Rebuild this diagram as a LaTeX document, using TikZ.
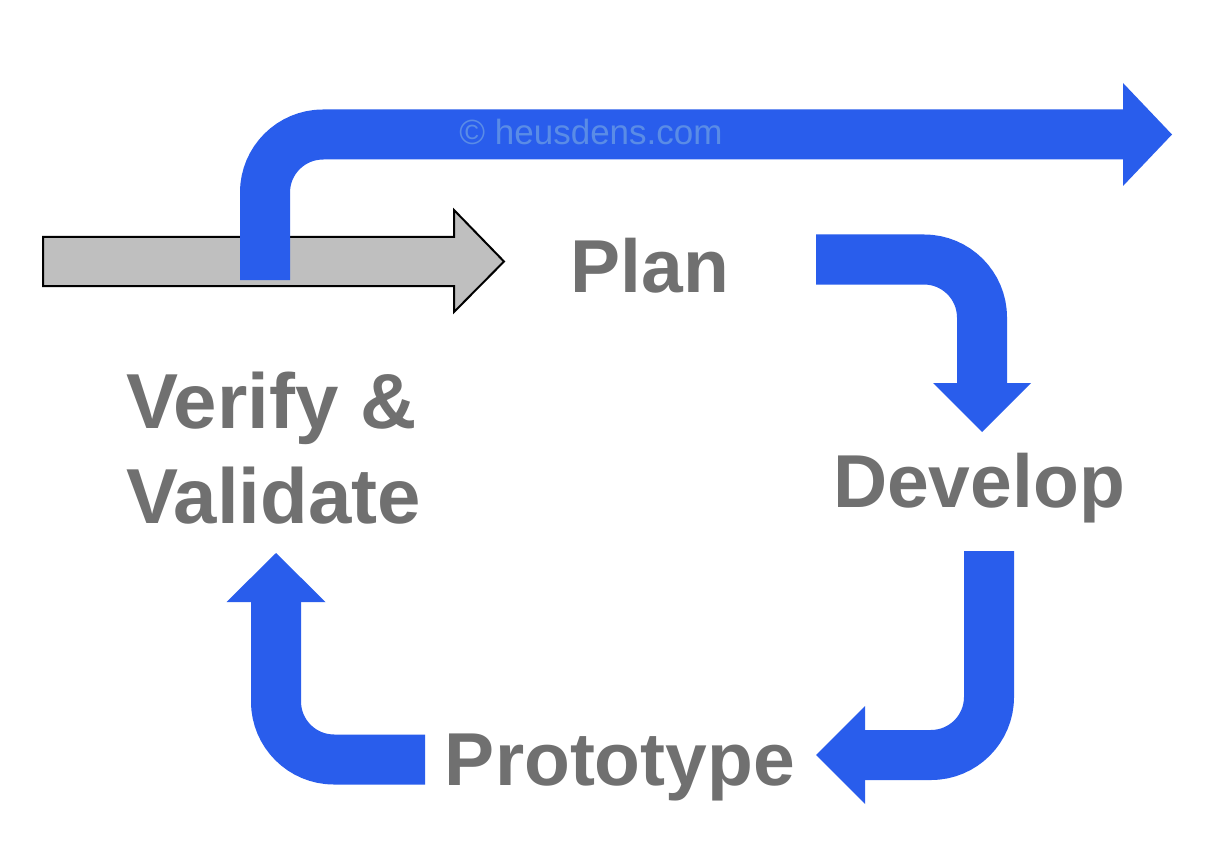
\documentclass[tikz,border=0pt]{standalone}
\usepackage{fontspec}
\usepackage{tikz}
\usepackage{xcolor}
\usetikzlibrary{calc}
\usetikzlibrary{positioning}
\newfontfamily\labelfont{Liberation Sans}
\definecolor{flowblue}{HTML}{295DEC}
\definecolor{markblue}{HTML}{5A8CE6}
\definecolor{labelgray}{HTML}{707070}
\definecolor{inputgray}{HTML}{BFBFBF}

\begin{document}
\begin{tikzpicture}[x=1pt,y=-1pt,
	flow/.style={draw=flowblue,line width=50pt,rounded corners=58pt},
	head/.style={fill=flowblue},
	phase/.style={font=\labelfont\bfseries\fontsize{75}{95}\selectfont,text=labelgray,inner sep=0pt}]
\useasboundingbox (0,0) rectangle (1228,850);
\fill[white] (0,0) rectangle (1228,850);
\draw[fill=inputgray,line width=2pt,line join=miter] (43,237) -- (454,237) -- (454,210) -- (504,261.5) -- (454,312) -- (454,286) -- (43,286) -- cycle;
\node[phase,anchor=base] (plan) at (650,292) {Plan};
\node[phase,anchor=base] (develop) at (979,507) {Develop};
\node[phase,anchor=base] (prototype) at (620,785) {Prototype};
\node[phase,anchor=base west,align=left,font=\labelfont\bfseries\fontsize{78}{95}\selectfont] (verify) at (126,523) {Verify \&\\Validate};
\coordinate (A) at (265,280);
\coordinate (B) at (265,134.5);
\coordinate (C) at (1123,134.5);
\draw[flow] (A) -- (B) -- (C);
\fill[head] ($(C)+(0,-51.5)$) -- ($(C)+(0,51.5)$) -- ($(C)+(49,0)$) -- cycle;
\node[font=\labelfont\fontsize{35}{40}\selectfont,text=markblue,inner sep=0pt] (mark) at (591,132) {© heusdens.com};
\coordinate (P1) at (816,259.5);
\coordinate (P2) at (982,259.5);
\coordinate (P3) at (982,383);
\draw[flow] (P1) -- (P2) -- (P3);
\fill[head] ($(P3)+(-49,0)$) -- ($(P3)+(49,0)$) -- ($(P3)+(0,49)$) -- cycle;
\coordinate (D1) at (989,551);
\coordinate (D2) at (989,755);
\coordinate (D3) at (865,755);
\draw[flow] (D1) -- (D2) -- (D3);
\fill[head] ($(D3)+(0,-49)$) -- ($(D3)+(0,49)$) -- ($(D3)+(-49,0)$) -- cycle;
\coordinate (V1) at (425,759.5);
\coordinate (V2) at (276,759.5);
\coordinate (V3) at (276,602);
\draw[flow] (V1) -- (V2) -- (V3);
\fill[head] ($(V3)+(-49.5,0)$) -- ($(V3)+(49.5,0)$) -- ($(V3)+(0,-49)$) -- cycle;
\end{tikzpicture}
\end{document}
